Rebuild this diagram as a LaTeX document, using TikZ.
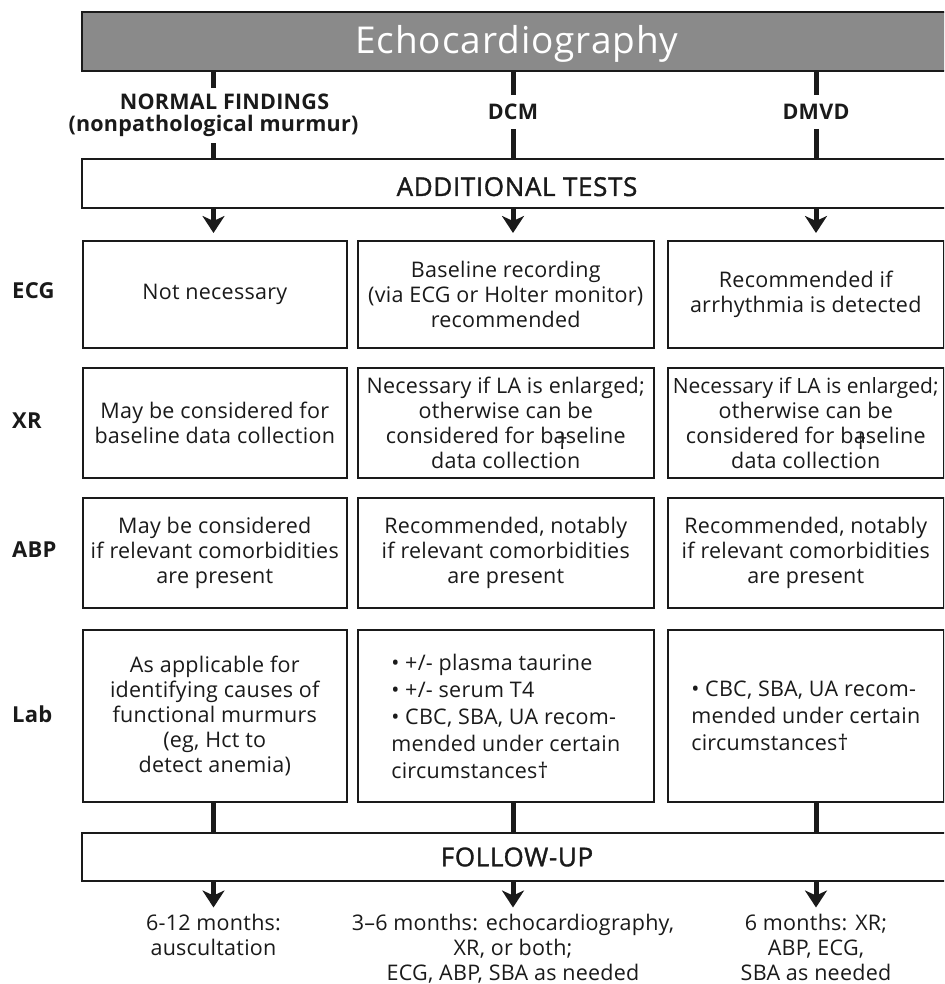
\documentclass[tikz,border=0pt]{standalone}
\usepackage{fontspec}
\setmainfont{Open Sans}[LetterSpace=1.2]
\newfontfamily\semib{Open Sans}[FakeBold=1.4,LetterSpace=2.5]
\usetikzlibrary{arrows.meta}
\definecolor{hdrgray}{RGB}{138,138,138}
\definecolor{ink}{RGB}{26,26,26}
\begin{document}
\begin{tikzpicture}[x=1pt,y=-1pt,
  box/.style={draw=ink, line width=2pt, align=center, inner sep=0pt, anchor=north west,
    font=\fontsize{21.5}{25}\selectfont, text=ink},
  wide/.style={draw=ink, line width=2pt, anchor=north west, inner sep=0pt, minimum width=870pt, text=ink},
  conn/.style={draw=ink, line width=5pt},
  arr/.style={conn, -{Stealth[length=17pt,width=22pt,inset=5pt]}},
  rowlab/.style={anchor=west, font=\bfseries\fontsize{22}{26}\selectfont, text=ink, inner sep=0pt},
  collab/.style={align=center, font=\bfseries\fontsize{21.5}{22}\selectfont, text=ink},
  fu/.style={anchor=north, align=center, inner sep=0pt, font=\fontsize{21.5}{25}\selectfont, text=ink},
  dag/.style={inner sep=0pt, font=\fontsize{21}{25}\selectfont, text=ink}
]
\useasboundingbox (0,0) rectangle (944,984);
\fill[white] (0,0) rectangle (944,984);
\clip (0,0) rectangle (944,984);

% column axes
\coordinate (c1) at (213.5,0);
\coordinate (c2) at (513,0);
\coordinate (c3) at (816,0);

% header
\node[wide, fill=hdrgray, minimum height=59pt, text=white,
  font=\fontsize{37}{40}\selectfont\addfontfeature{LetterSpace=2.5}, text height=27pt, text depth=3pt] (hdr) at (81,11.5) {Echocardiography};

% column labels
\node[collab, inner sep=6pt] (nf) at (213.5,115.5) {\hspace*{22pt}NORMAL FINDINGS\\(nonpathological murmur)};
\node[collab, inner sep=9pt] (dcm) at (513,112) {DCM};
\node[collab, inner sep=9pt] (dmvd) at (816,112) {DMVD};

% additional tests
\node[wide, minimum height=49pt, font=\semib\fontsize{26}{28}\selectfont, text height=25pt, text depth=0pt] (at) at (81,158) {ADDITIONAL TESTS};

\draw[conn] (hdr.south -| c1) -- (nf.north -| c1);
\draw[conn] (nf.south -| c1) -- (at.north -| c1);
\draw[conn] (hdr.south -| c2) -- (dcm.north -| c2);
\draw[conn] (dcm.south -| c2) -- (at.north -| c2);
\draw[conn] (hdr.south -| c3) -- (dmvd.north -| c3);
\draw[conn] (dmvd.south -| c3) -- (at.north -| c3);

% row labels
\node[rowlab] (lecg) at (12,291) {ECG};
\node[rowlab] (lxr) at (12,420.5) {XR};
\node[rowlab] (labp) at (12,549.5) {ABP};
\node[rowlab] (llab) at (12,714.5) {Lab};

% ECG row
\node[box, minimum width=263.5pt, minimum height=107pt] (e1) at (82,240) {Not necessary};
\node[box, minimum width=295.5pt, minimum height=107pt] (e2) at (357,240) {Baseline recording\\(via ECG or Holter monitor)\\recommended};
\node[box, minimum width=275.5pt, minimum height=107pt] (e3) at (667,240) {Recommended if\\arrhythmia is detected};

% XR row
\node[box, minimum width=263.5pt, minimum height=110pt] (x1) at (82,367) {May be considered for\\baseline data collection};
\node[box, minimum width=295.5pt, minimum height=110pt] (x2) at (357,367) {Necessary if LA is enlarged;\\otherwise can be\\considered for baseline\\data collection};
\node[box, minimum width=275.5pt, minimum height=110pt] (x3) at (667,367) {{\fontsize{21}{25}\selectfont\addfontfeature{LetterSpace=0}Necessary if LA is enlarged;}\\otherwise can be\\considered for baseline\\data collection};
\node[dag] (dg2) at (562.5,442) {†};
\node[dag] (dg3) at (861,442) {†};

% ABP row
\node[box, minimum width=263.5pt, minimum height=110.5pt] (a1) at (82,496.5) {May be considered\\if relevant comorbidities\\are present};
\node[box, minimum width=295.5pt, minimum height=110.5pt] (a2) at (357,496.5) {Recommended, notably\\if relevant comorbidities\\are present};
\node[box, minimum width=275.5pt, minimum height=110.5pt] (a3) at (667,496.5) {Recommended, notably\\if relevant comorbidities\\are present};

% Lab row
\node[box, minimum width=263.5pt, minimum height=172pt] (l1) at (82,629) {As applicable for\\identifying causes of\\functional murmurs\\(eg, Hct to\\detect anemia)};
\node[box, minimum width=295.5pt, minimum height=172pt, align=left, font=\fontsize{21.5}{27}\selectfont] (l2) at (357,629) {• +/- plasma taurine\\• +/- serum T4\\• CBC, SBA, UA recom-\\mended under certain\\circumstances†};
\node[box, minimum width=275.5pt, minimum height=172pt, align=left, font=\fontsize{21.5}{27}\selectfont] (l3) at (667,629) {• CBC, SBA, UA recom-\\mended under certain\\circumstances†};

% arrows from additional tests
\draw[arr] (at.south -| c1) -- ([yshift=7pt]e1.north -| c1);
\draw[arr] (at.south -| c2) -- ([yshift=7pt]e2.north -| c2);
\draw[arr] (at.south -| c3) -- ([yshift=7pt]e3.north -| c3);

% follow-up
\node[wide, minimum height=48pt, font=\semib\fontsize{26}{28}\selectfont] (fu) at (81,832) {FOLLOW-UP};
\draw[conn] (l1.south -| c1) -- (fu.north -| c1);
\draw[conn] (l2.south -| c2) -- (fu.north -| c2);
\draw[conn] (l3.south -| c3) -- (fu.north -| c3);

\node[fu] (f1) at (213.5,913.5) {6-12 months:\\auscultation};
\node[fu] (f2) at (513,913.5) {3–6 months: echocardiography,\\XR, or both;\\ECG, ABP, SBA as needed};
\node[fu] (f3) at (816,913.5) {6 months: XR;\\ABP, ECG,\\SBA as needed};

\draw[arr] (fu.south -| c1) -- ([yshift=6pt]f1.north -| c1);
\draw[arr] (fu.south -| c2) -- ([yshift=6pt]f2.north -| c2);
\draw[arr] (fu.south -| c3) -- ([yshift=6pt]f3.north -| c3);
\end{tikzpicture}
\end{document}
